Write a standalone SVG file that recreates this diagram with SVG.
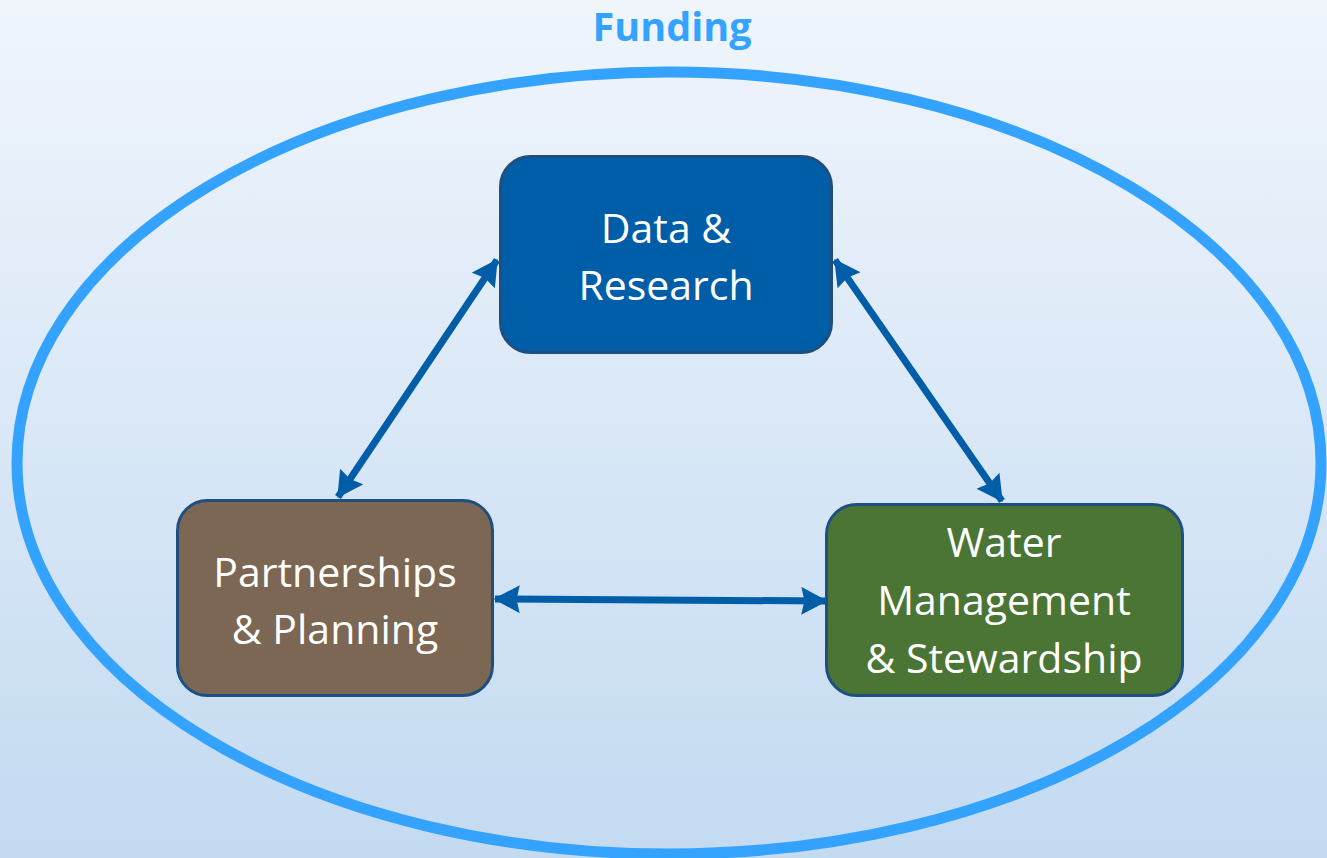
<svg xmlns="http://www.w3.org/2000/svg" width="1327" height="858" viewBox="0 0 1327 858">
<defs>
<linearGradient id="bg" x1="0" y1="0" x2="0" y2="1">
<stop offset="0" stop-color="#F0F5FC"/>
<stop offset="1" stop-color="#C3DAF1"/>
</linearGradient>
<marker id="ah" viewBox="0 0 10 10" refX="9.5" refY="5" markerWidth="26" markerHeight="28" orient="auto-start-reverse" markerUnits="userSpaceOnUse" preserveAspectRatio="none">
<path d="M0,0 L10,5 L0,10 L1.2,5 Z" fill="#005EA8"/>
</marker>
<style>
.node{stroke:#1F4F7F;stroke-width:3}
.lbl{font-family:"Open Sans","Liberation Sans",sans-serif;font-size:41px;fill:#FFFFFF;text-anchor:middle}
.conn{stroke:#005EA8;stroke-width:7;fill:none;marker-start:url(#ah);marker-end:url(#ah)}
</style>
</defs>
<rect x="0" y="0" width="1327" height="858" fill="url(#bg)"/>
<g id="funding">
<ellipse cx="669" cy="463" rx="652" ry="391" fill="none" stroke="#33A3FF" stroke-width="11"/>
<text x="672" y="41" font-family="'Open Sans','Liberation Sans',sans-serif" font-size="39.5" font-weight="bold" fill="#33A3FF" text-anchor="middle">Funding</text>
</g>
<g id="connectors">
<line class="conn" x1="497" y1="260" x2="338" y2="497"/>
<line class="conn" x1="835" y1="260" x2="1002" y2="501"/>
<line class="conn" x1="495" y1="599" x2="826" y2="601"/>
</g>
<g id="data-research">
<rect class="node" x="500.5" y="156.5" width="331" height="196" rx="30" fill="#005DA7"/>
<text class="lbl" x="666" y="243">Data &amp;</text>
<text class="lbl" x="666" y="300">Research</text>
</g>
<g id="partnerships-planning">
<rect class="node" x="177.5" y="500.5" width="315" height="195" rx="30" fill="#7B6753"/>
<text class="lbl" x="335" y="587">Partnerships</text>
<text class="lbl" x="335" y="644">&amp; Planning</text>
</g>
<g id="water-management">
<rect class="node" x="826.5" y="504.5" width="356" height="191" rx="30" fill="#4B7535"/>
<text class="lbl" x="1004" y="557">Water</text>
<text class="lbl" x="1004" y="615">Management</text>
<text class="lbl" x="1004" y="673">&amp; Stewardship</text>
</g>
</svg>
